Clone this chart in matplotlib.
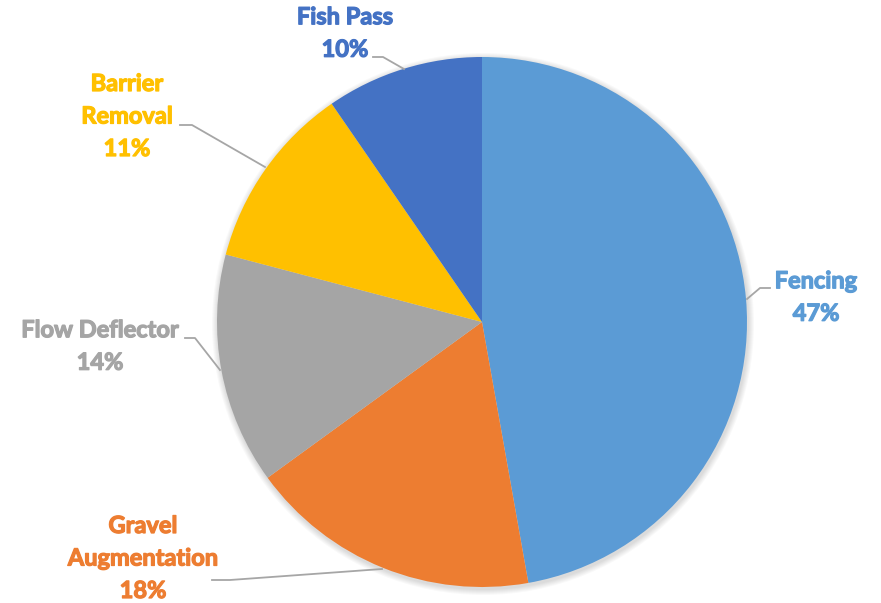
import matplotlib
matplotlib.use("Agg")
import matplotlib.pyplot as plt
from matplotlib.patches import Circle
import matplotlib.patheffects as pe

# slice data, clockwise from 12 o'clock
categories = ["Fencing", "Gravel\nAugmentation", "Flow Deflector", "Barrier\nRemoval", "Fish Pass"]
shares = [47.2, 17.8, 14.1, 11.3, 9.6]
pct_labels = ["47%", "18%", "14%", "11%", "10%"]
colors = ["#5B9BD5", "#ED7D31", "#A5A5A5", "#FFC000", "#4472C4"]

W, H = 881, 603
fig = plt.figure(figsize=(W / 100, H / 100), dpi=100)
ax = fig.add_axes([0, 0, 1, 1])

cx, cy, r = 482, H - 322, 265

# soft shadow behind the pie
for k in range(6):
    ax.add_patch(Circle((cx + 1, cy - 2), r + 1 + k, color="black", alpha=0.025, zorder=0, lw=0))

wedges, _ = ax.pie(shares, colors=colors, startangle=90, counterclock=False,
                   center=(cx, cy), radius=r, frame=True,
                   wedgeprops=dict(linewidth=0))
ax.set_xlim(0, W)
ax.set_ylim(0, H)
ax.set_aspect("equal")
ax.axis("off")

# label positions (text centre) and leader lines in pixel coords from top-left
label_pos = [(816, 297), (143, 558), (100, 346), (127, 116), (345, 33)]
leaders = [
    [(770, 288), (760, 288), (747, 299)],
    [(212, 580), (230, 580), (382, 569)],
    [(185, 338), (195, 338), (220, 370)],
    [(180, 125), (192, 125), (265, 167)],
    [(373, 57), (383, 57), (404, 69)],
]

for name, pct, col, (tx, ty), line in zip(categories, pct_labels, colors, label_pos, leaders):
    ax.text(tx, H - ty, name + "\n" + pct, ha="center", va="center", color=col,
            fontsize=17, fontweight="bold", family="Lato", linespacing=1.5,
            path_effects=[pe.withStroke(linewidth=0.9, foreground=col)])
    xs = [p[0] for p in line]
    ys = [H - p[1] for p in line]
    ax.plot(xs, ys, color="#A6A6A6", lw=1.3, zorder=3)

fig.savefig("out.png", dpi=100)
